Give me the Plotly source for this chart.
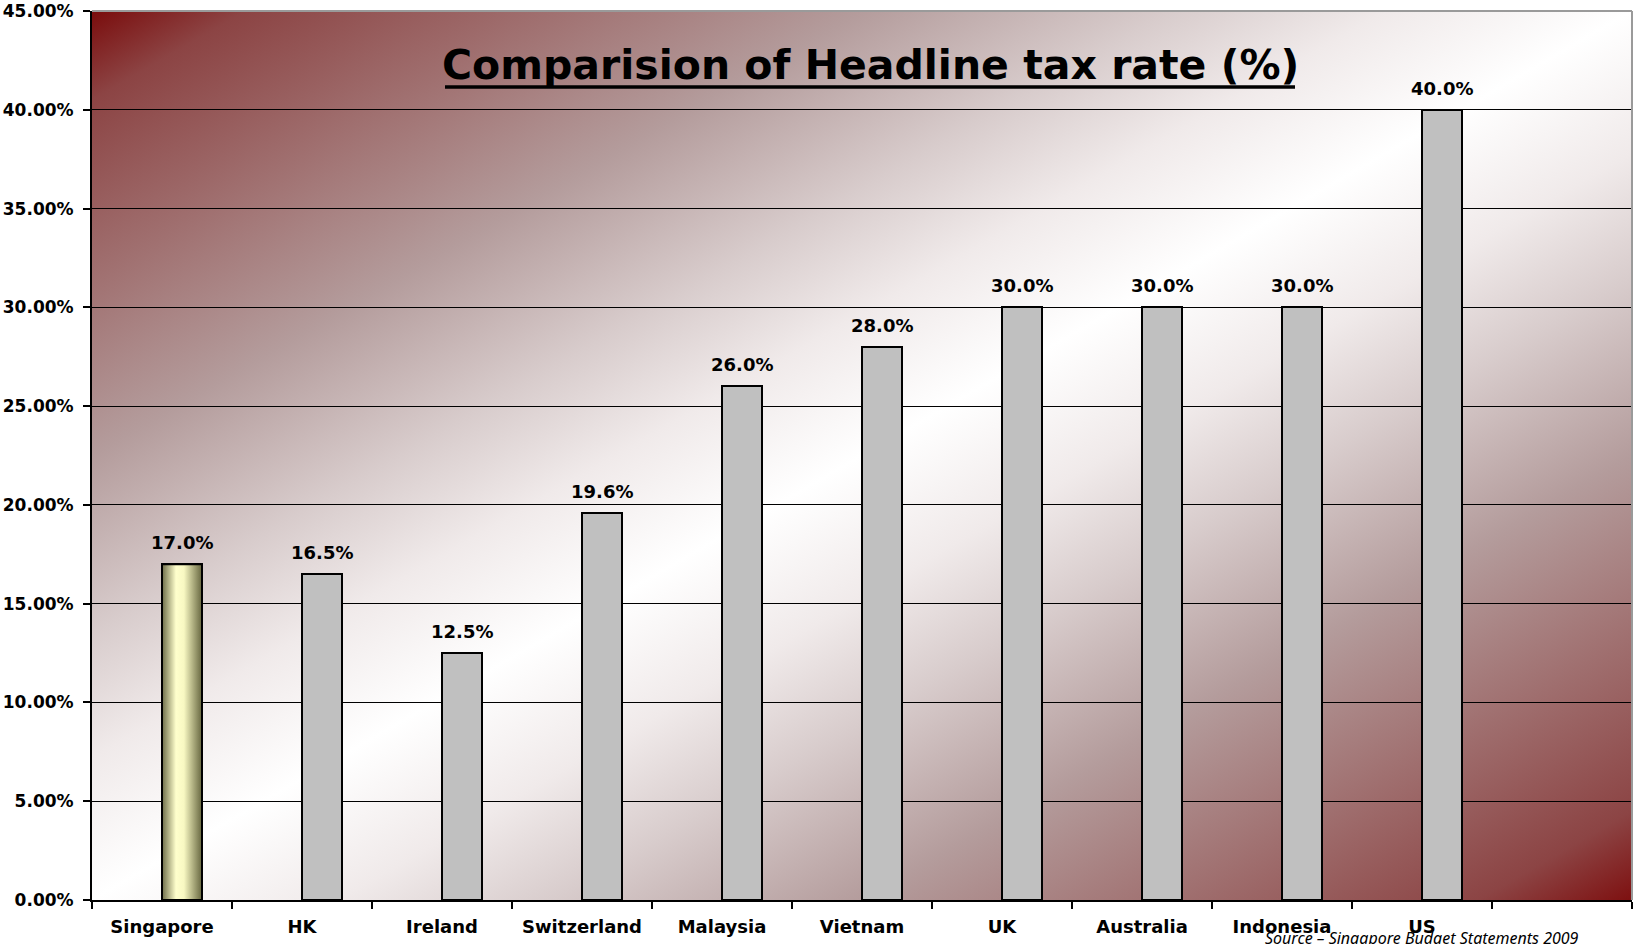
import base64
import plotly.graph_objects as go

# ---------------- data ----------------
categories = ["Singapore", "HK", "Ireland", "Switzerland", "Malaysia",
              "Vietnam", "UK", "Australia", "Indonesia", "US"]
rates = [17.0, 16.5, 12.5, 19.6, 26.0, 28.0, 30.0, 30.0, 30.0, 40.0]
y_ticks = [0, 5, 10, 15, 20, 25, 30, 35, 40, 45]
y_tick_labels = [f"{v:.2f}%" for v in y_ticks]
title_text = "Comparision of Headline tax rate (%)"
source_text = "Source \u2013 Singapore Budget Statements 2009"

# ---------------- styles ----------------
W, H = 1633, 944
ML, MR, MT, MB = 92, 1, 11, 44
PW, PH = W - ML - MR, H - MT - MB
BAR_W = 1 / 3.5
N_SLOTS = 11
BOLD = "DejaVu Sans"

positions = list(range(len(categories)))
bar_colors = ["#ffffc8"] + ["#c0c0c0"] * (len(categories) - 1)

# diagonal red-white-red gradient background for plot area
stops = [(0.0, "#7a0c0c"), (0.05, "#8c4444"), (0.15, "#a07070"), (0.25, "#b49c9c"),
         (0.35, "#d8cccc"), (0.42, "#f0eaea"), (0.5, "#ffffff"),
         (0.58, "#f0eaea"), (0.65, "#d8cccc"), (0.75, "#b49c9c"), (0.85, "#a07070"),
         (0.95, "#8c4444"), (1.0, "#7e1010")]
stop_xml = "".join(f'<stop offset="{o}" stop-color="{c}"/>' for o, c in stops)
svg = ('<svg xmlns="http://www.w3.org/2000/svg" width="1540" height="889" '
       'preserveAspectRatio="none"><defs><linearGradient id="g" x1="0" y1="0" x2="1" y2="1">'
       f'{stop_xml}</linearGradient></defs><rect width="100%" height="100%" fill="url(#g)"/></svg>')
svg_uri = "data:image/svg+xml;base64," + base64.b64encode(svg.encode()).decode()

fig = go.Figure()
fig.add_trace(go.Bar(
    x=positions, y=rates, width=BAR_W, offset=0,
    marker=dict(color=bar_colors, line=dict(color="black", width=2)),
    hoverinfo="skip", showlegend=False,
))

# gradient overlay for the highlighted (first) bar, built from its data value
x0 = positions[0]
fig.add_trace(go.Scatter(
    x=[x0, x0, x0 + BAR_W, x0 + BAR_W, x0],
    y=[0, rates[0], rates[0], 0, 0],
    mode="lines", fill="toself",
    fillgradient=dict(type="horizontal",
                      colorscale=[[0, "#6c6c48"], [0.35, "#ffffcc"], [0.55, "#f8f8c2"], [1, "#66663f"]]),
    line=dict(color="black", width=2),
    hoverinfo="skip", showlegend=False,
))

annotations = []
for p, v in zip(positions, rates):
    annotations.append(dict(
        x=p + BAR_W / 2, y=v, xref="x", yref="y", text=f"{v:.1f}%",
        showarrow=False, yanchor="bottom", yshift=9,
        font=dict(family=BOLD, size=18, color="black", weight="bold"),
    ))
annotations.append(dict(
    x=(870 - ML) / PW, y=(H - MB - 65) / PH, xref="paper", yref="paper",
    text=title_text, showarrow=False, xanchor="center", yanchor="middle",
    font=dict(family=BOLD, size=41, color="black", weight="bold"),
))
annotations.append(dict(
    x=(1263 - ML) / PW, y=(H - MB - 925) / PH, xref="paper", yref="paper",
    text=source_text, showarrow=False, xanchor="left", yanchor="top",
    font=dict(family="Noto Sans", size=16, color="black", style="italic"),
))

fig.update_layout(
    width=W, height=H,
    margin=dict(l=ML, r=MR, t=MT, b=MB, pad=0),
    paper_bgcolor="white", plot_bgcolor="rgba(0,0,0,0)",
    showlegend=False,
    annotations=annotations,
    images=[dict(source=svg_uri, xref="paper", yref="paper", x=0, y=1, sizex=1, sizey=1,
                 sizing="stretch", xanchor="left", yanchor="top", layer="below")],
    shapes=[
        dict(type="line", xref="paper", yref="paper", x0=0, x1=1, y0=1, y1=1,
             line=dict(color="#9a9a9a", width=2), layer="above"),
        dict(type="line", xref="paper", yref="paper", x0=1, x1=1, y0=0, y1=1,
             line=dict(color="#9a9a9a", width=2), layer="above"),
        # title underline
        dict(type="line", xref="paper", yref="paper",
             x0=(445 - ML) / PW, x1=(1295 - ML) / PW,
             y0=(H - MB - 87) / PH, y1=(H - MB - 87) / PH,
             line=dict(color="black", width=3.5), layer="above"),
    ],
    bargap=0,
)

fig.update_xaxes(
    range=[-0.5, N_SLOTS - 0.5],
    tickmode="array", tickvals=positions, ticktext=categories, ticks="",
    minor=dict(tickmode="linear", tick0=-0.5, dtick=1, ticks="outside", ticklen=7,
               tickcolor="black", tickwidth=2, showgrid=False),
    showline=True, linecolor="black", linewidth=2,
    showgrid=False, zeroline=False,
    tickfont=dict(family=BOLD, size=18, color="black", weight="bold"),
    ticklabelstandoff=9,
)
fig.update_yaxes(
    range=[0, 45], tickmode="array", tickvals=y_ticks, ticktext=y_tick_labels,
    ticks="outside", ticklen=7, tickcolor="black", tickwidth=2,
    showline=True, linecolor="black", linewidth=2,
    showgrid=True, gridcolor="black", gridwidth=1, zeroline=False,
    tickfont=dict(family=BOLD, size=17, color="black", weight="bold"),
    ticklabelstandoff=6,
)

fig.write_html("out.html")
